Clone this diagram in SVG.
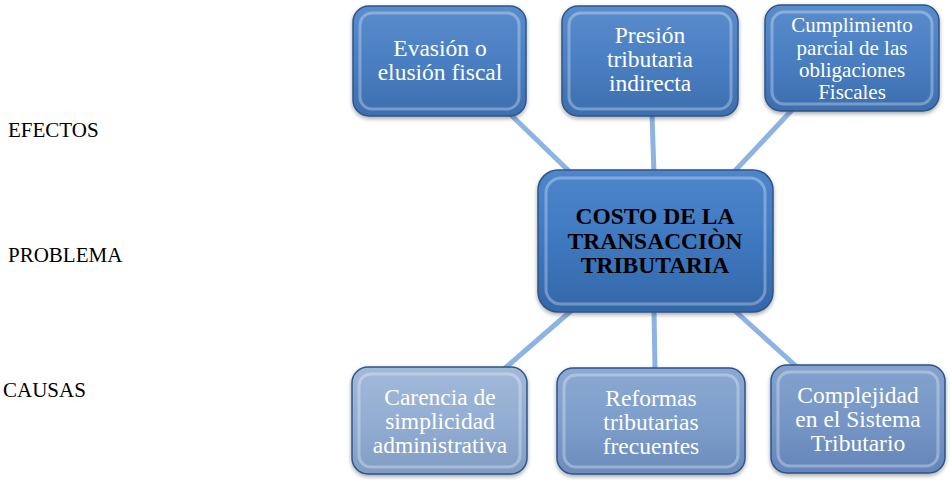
<svg xmlns="http://www.w3.org/2000/svg" width="950" height="480" viewBox="0 0 950 480">
<defs>
<linearGradient id="gTop" x1="0" y1="0" x2="0" y2="1">
<stop offset="0" stop-color="#5a8ccc"/><stop offset="0.5" stop-color="#4a7fc2"/><stop offset="1" stop-color="#3d6eae"/>
</linearGradient>
<linearGradient id="gMid" x1="0" y1="0" x2="0" y2="1">
<stop offset="0" stop-color="#4f86cc"/><stop offset="0.5" stop-color="#3f78c0"/><stop offset="1" stop-color="#3467a8"/>
</linearGradient>
<linearGradient id="gB1" x1="0" y1="0" x2="0" y2="1">
<stop offset="0" stop-color="#a2bad9"/><stop offset="0.5" stop-color="#93aed3"/><stop offset="1" stop-color="#7f9cc4"/>
</linearGradient>
<linearGradient id="gB2" x1="0" y1="0" x2="0" y2="1">
<stop offset="0" stop-color="#8ba9d1"/><stop offset="0.5" stop-color="#7e9ecb"/><stop offset="1" stop-color="#6b8cbc"/>
</linearGradient>
<linearGradient id="gB3" x1="0" y1="0" x2="0" y2="1">
<stop offset="0" stop-color="#83a2cd"/><stop offset="0.5" stop-color="#7697c7"/><stop offset="1" stop-color="#6585b8"/>
</linearGradient>
<filter id="sh" x="-10%" y="-10%" width="120%" height="130%">
<feDropShadow dx="0" dy="2" stdDeviation="2" flood-color="#000" flood-opacity="0.35"/>
</filter>
</defs>
<style>
.box{stroke:#2f5488;stroke-width:1.5;filter:url(#sh)}
.hl{fill:none;stroke:#ffffff;stroke-opacity:0.3;stroke-width:3}
.t{font-family:"Liberation Serif","Times New Roman",serif;fill:#ffffff;text-anchor:middle;font-size:23.5px}
.tc{font-family:"Liberation Serif","Times New Roman",serif;fill:#000000;text-anchor:middle;font-size:23.5px;font-weight:bold}
.lab{font-family:"Liberation Serif","Times New Roman",serif;fill:#000000;font-size:21px}
.con{stroke:#8db3e2;stroke-width:5;fill:none}
</style>
<g id="labels">
<text class="lab" x="8" y="137">EFECTOS</text>
<text class="lab" x="8" y="262">PROBLEMA</text>
<text class="lab" x="3" y="397">CAUSAS</text>
</g>
<g id="connectors">
<line class="con" x1="510" y1="114" x2="572" y2="174"/>
<line class="con" x1="652" y1="114" x2="654" y2="174"/>
<line class="con" x1="792" y1="110" x2="732" y2="174"/>
<line class="con" x1="572" y1="310" x2="503" y2="370"/>
<line class="con" x1="654" y1="310" x2="655" y2="370"/>
<line class="con" x1="734" y1="310" x2="798" y2="368"/>
</g>
<g id="n1">
<rect class="box" x="353" y="6" width="173" height="110" rx="16" fill="url(#gTop)"/>
<rect class="hl" x="360" y="13" width="159" height="96" rx="12"/>
<text class="t" x="440" y="56">Evasión o</text>
<text class="t" x="440" y="80">elusión fiscal</text>
</g>
<g id="n2">
<rect class="box" x="562" y="6" width="176" height="110" rx="16" fill="url(#gTop)"/>
<rect class="hl" x="569" y="13" width="162" height="96" rx="12"/>
<text class="t" x="650" y="43">Presión</text>
<text class="t" x="650" y="67">tributaria</text>
<text class="t" x="650" y="91">indirecta</text>
</g>
<g id="n3">
<rect class="box" x="765" y="5" width="174" height="106" rx="16" fill="url(#gTop)"/>
<rect class="hl" x="772" y="12" width="160" height="92" rx="12"/>
<text class="t" x="852" y="32" style="font-size:21px">Cumplimiento</text>
<text class="t" x="852" y="55" style="font-size:21px">parcial de las</text>
<text class="t" x="852" y="77" style="font-size:21px">obligaciones</text>
<text class="t" x="852" y="99" style="font-size:21px">Fiscales</text>
</g>
<g id="n0">
<rect class="box" x="538" y="170" width="235" height="142" rx="20" fill="url(#gMid)"/>
<rect class="hl" x="546" y="178" width="219" height="126" rx="15"/>
<text class="tc" x="655" y="224">COSTO DE LA</text>
<text class="tc" x="655" y="249">TRANSACCIÒN</text>
<text class="tc" x="655" y="273">TRIBUTARIA</text>
</g>
<g id="n4">
<rect class="box" x="352" y="367" width="175" height="107" rx="16" fill="url(#gB1)"/>
<rect class="hl" x="359" y="374" width="161" height="93" rx="12"/>
<text class="t" x="440" y="405">Carencia de</text>
<text class="t" x="440" y="429">simplicidad</text>
<text class="t" x="440" y="453">administrativa</text>
</g>
<g id="n5">
<rect class="box" x="557" y="368" width="188" height="106" rx="16" fill="url(#gB2)"/>
<rect class="hl" x="564" y="375" width="174" height="92" rx="12"/>
<text class="t" x="651" y="406">Reformas</text>
<text class="t" x="651" y="430">tributarias</text>
<text class="t" x="651" y="454">frecuentes</text>
</g>
<g id="n6">
<rect class="box" x="771" y="365" width="174" height="108" rx="16" fill="url(#gB3)"/>
<rect class="hl" x="778" y="372" width="160" height="94" rx="12"/>
<text class="t" x="858" y="403">Complejidad</text>
<text class="t" x="858" y="427">en el Sistema</text>
<text class="t" x="858" y="451">Tributario</text>
</g>
</svg>
